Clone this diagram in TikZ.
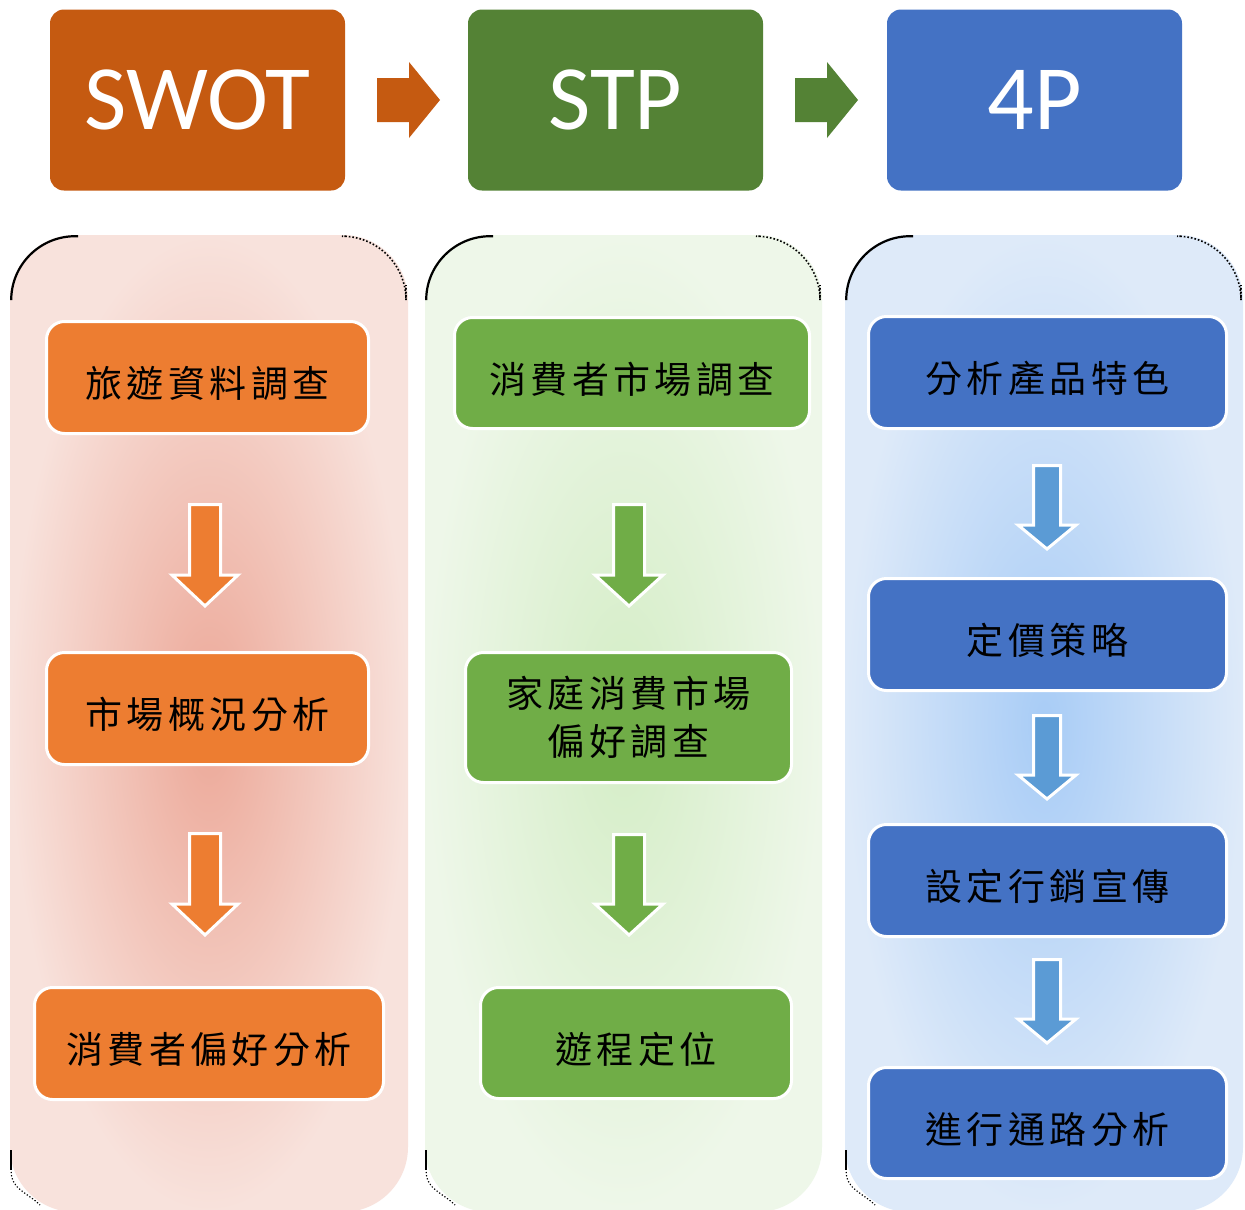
\documentclass[tikz,border=0pt]{standalone}
\usepackage{fontspec}
\setmainfont{Carlito}
\newfontfamily\cjk[LetterSpace=12]{Noto Sans CJK TC}
\usetikzlibrary{calc}
\definecolor{swot}{HTML}{C55A11}
\definecolor{stp}{HTML}{548235}
\definecolor{fourp}{HTML}{4472C4}
\definecolor{ob}{HTML}{ED7D31}
\definecolor{gb}{HTML}{70AD47}
\definecolor{bb}{HTML}{4472C4}
\definecolor{ba}{HTML}{5B9BD5}
\definecolor{po}{RGB}{248,226,220}
\definecolor{pin}{RGB}{236,168,152}
\definecolor{go}{RGB}{238,247,233}
\definecolor{gin}{RGB}{212,237,198}
\definecolor{bo}{RGB}{222,234,249}
\definecolor{bin}{RGB}{168,204,246}
\newcommand\DArr[7]{%
  \draw[white, line width=3pt, fill=#7] (#1-#4,#2) -- (#1+#4,#2) -- (#1+#4,#3-#6) -- (#1+#5,#3-#6) -- (#1,#3) -- (#1-#5,#3-#6) -- (#1-#4,#3-#6) -- cycle;}
\newcommand\RArr[3]{%
  \fill[#3] (#1,#2-22) -- (#1+32,#2-22) -- (#1+32,#2-38) -- (#1+63,#2) -- (#1+32,#2+38) -- (#1+32,#2+22) -- (#1,#2+22) -- cycle;}
\newcommand\Panel[4]{%
  \shade[rounded corners=65pt, inner color=#4, outer color=#3] (#1,235) rectangle (#2,1212);
  \draw[line width=2.2pt, rounded corners=64pt] (#1+1.2,300) |- (#1+68,236.2);
  \draw[line width=1.6pt, dotted, rounded corners=64pt] (#2-62,236.2) -| (#2-2,285);
  \draw[line width=2.2pt] (#1+1.2,1150) -- (#1+1.2,1170);
  \draw[line width=1.2pt, dotted] (#1+1.2,1172) to[out=90+180,in=180-45] (#1+30,1205);}
\newcommand\low[1]{\raisebox{-6pt}[\height][\depth]{#1}}
\tikzset{
  head/.style={rounded corners=14pt, minimum width=295pt, minimum height=181pt, text=white, inner sep=0pt,
    font=\fontsize{92}{92}\selectfont},
  item/.style={draw=white, line width=3pt, rounded corners=18pt, inner sep=0pt, align=center, text=black,
    font=\cjk\fontsize{37}{48}\selectfont},
}
\begin{document}
\begin{tikzpicture}[x=1pt,y=-1pt]
\useasboundingbox (0,0) rectangle (1245,1210);
\fill[white] (0,0) rectangle (1245,1210);
% top headers
\node[head, fill=swot] (swot) at (197.5,100) {SWOT};
\node[head, fill=stp] (stp) at (615.5,100) {STP};
\node[head, fill=fourp] (fp) at (1034.5,100) {4P};
\RArr{377}{100}{swot}
\RArr{795}{100}{stp}
% panels
\Panel{10}{408}{po}{pin}
\Panel{425}{822}{go}{gin}
\Panel{845}{1243}{bo}{bin}
% left column
\node[item, fill=ob, minimum width=322pt, minimum height=112pt] (l1) at (207.5,377.5) {\low{旅遊資料調查}};
\node[item, fill=ob, minimum width=322pt, minimum height=112pt] (l2) at (207.5,708.5) {\low{市場概況分析}};
\node[item, fill=ob, minimum width=349pt, minimum height=112pt] (l3) at (209,1043.5) {\low{消費者偏好分析}};
\DArr{205}{504.5}{606}{15.5}{33}{31}{ob}
\DArr{205}{833.5}{935}{15.5}{33}{31}{ob}
% middle column
\node[item, fill=gb, minimum width=355pt, minimum height=111pt] (m1) at (632,373) {\low{消費者市場調查}};
\node[item, fill=gb, minimum width=326pt, minimum height=130pt] (m2) at (628.5,717.5) {家庭消費市場\\偏好調查};
\node[item, fill=gb, minimum width=311pt, minimum height=111pt] (m3) at (636,1043) {\low{遊程定位}};
\DArr{629}{504.5}{606}{15.5}{34}{31}{gb}
\DArr{629}{834.5}{935}{15.5}{34}{31}{gb}
% right column
\node[item, fill=bb, minimum width=358pt, minimum height=112pt] (r1) at (1047.5,372.5) {\low{分析產品特色}};
\node[item, fill=bb, minimum width=358pt, minimum height=112pt] (r2) at (1047.5,634.5) {\low{定價策略}};
\node[item, fill=bb, minimum width=358pt, minimum height=112pt] (r3) at (1047.5,880.5) {\low{設定行銷宣傳}};
\node[item, fill=bb, minimum width=358pt, minimum height=111pt] (r4) at (1047.5,1123) {\low{進行通路分析}};
\DArr{1047}{465.5}{549}{13.5}{29}{24}{ba}
\DArr{1047}{715.5}{799}{13.5}{29}{24}{ba}
\DArr{1047}{959.5}{1043}{13.5}{29}{24}{ba}
\end{tikzpicture}
\end{document}
